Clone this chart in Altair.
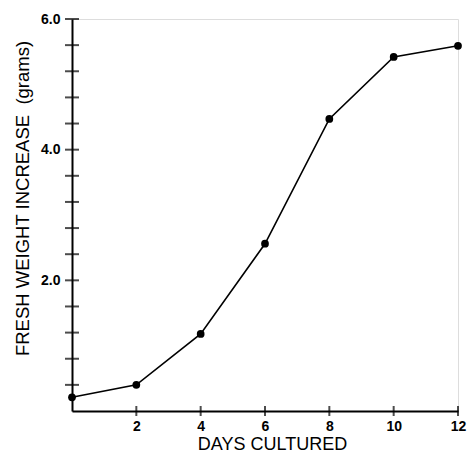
import altair as alt
import pandas as pd

days = [0, 2, 4, 6, 8, 10, 12]
weight = [0.21, 0.40, 1.18, 2.56, 4.47, 5.42, 5.59]

x_tick_days = [2, 4, 6, 8, 10, 12]
y_tick_vals = [0.4, 0.8, 1.2, 1.6, 2.0, 2.4, 2.8, 3.2, 3.6, 4.0, 4.4, 4.8, 5.2, 5.6, 6.0]
y_label_vals = [2.0, 4.0, 6.0]

df = pd.DataFrame({"day": days, "w": weight})
xt = pd.DataFrame({"day": x_tick_days})
yt = pd.DataFrame({"w": y_tick_vals})

FONT = "Liberation Sans"
W, H = 386, 392

xscale = alt.Scale(domain=[0, 12], nice=False, zero=False)
yscale = alt.Scale(domain=[0, 6], nice=False, zero=False)

xaxis = alt.Axis(
    values=x_tick_days, ticks=False, tickSize=0, grid=False,
    domainColor="black", domainWidth=2, labelPadding=8,
    labelFont=FONT, labelFontSize=14, labelFontWeight="bold", labelColor="black",
    title="DAYS CULTURED", titleFont=FONT, titleFontSize=18, titleFontWeight="normal",
    titleColor="black", titleX=200, titleY=38, titleBaseline="alphabetic", titleAnchor="middle",
    labelFlush=False,
)
yaxis = alt.Axis(
    values=y_label_vals, format=".1f", ticks=False, tickSize=0, grid=False,
    domainColor="black", domainWidth=2, labelPadding=12,
    labelFont=FONT, labelFontSize=14, labelFontWeight="bold", labelColor="black",
    title="FRESH WEIGHT INCREASE\u00a0\u00a0(grams)", titleFont=FONT, titleFontSize=18.5,
    titleFontWeight="normal", titleColor="black", titleX=-50, titleY=179,
    titleBaseline="middle", titleAnchor="middle", titleAngle=-90, labelFlush=False,
)

line = alt.Chart(df).mark_line(color="black", strokeWidth=1.6).encode(
    x=alt.X("day:Q", scale=xscale, axis=xaxis),
    y=alt.Y("w:Q", scale=yscale, axis=yaxis),
)
pts = alt.Chart(df).mark_circle(color="black", opacity=1, size=60).encode(
    x=alt.X("day:Q", scale=xscale),
    y=alt.Y("w:Q", scale=yscale),
)
yticks = alt.Chart(yt).mark_tick(color="black", thickness=2, size=14).encode(
    y=alt.Y("w:Q", scale=yscale),
    x=alt.value(0),
)
xticks = alt.Chart(xt).mark_tick(color="black", thickness=2, size=10).encode(
    x=alt.X("day:Q", scale=xscale),
    y=alt.value(H),
)

chart = alt.layer(line, pts, yticks, xticks).properties(
    width=W, height=H,
    autosize=alt.AutoSizeParams(type="none"),
    padding={"left": 64, "top": 11, "right": 10, "bottom": 44},
).configure_view(stroke=None).configure(background="white")

chart.save("out.html", embed_options={"renderer": "svg", "actions": False})
